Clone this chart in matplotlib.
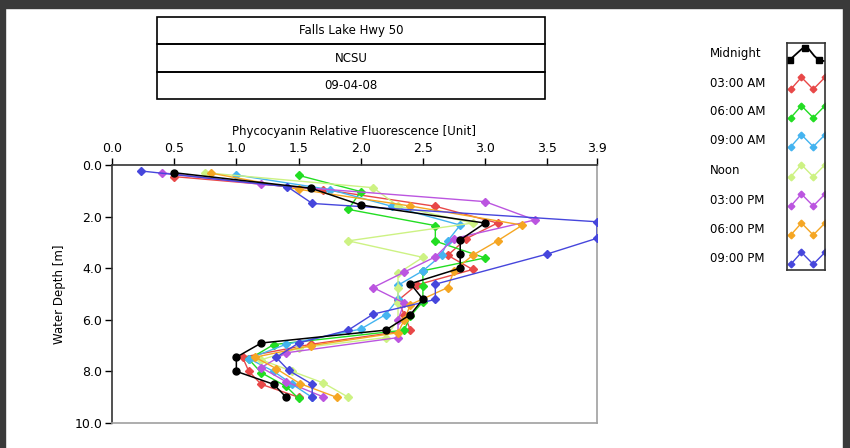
import matplotlib
matplotlib.use("Agg")
import matplotlib.pyplot as plt
from matplotlib.patches import Rectangle

# depth [m] and phycocyanin fluorescence per sampling time
depth_midnight = [0.3, 0.9, 1.55, 2.25, 2.9, 3.45, 4.0, 4.6, 5.2, 5.8, 6.4, 6.9, 7.45, 8.0, 8.5, 9.0]
pc_midnight = [0.5, 1.6, 2.0, 3.0, 2.8, 2.8, 2.8, 2.4, 2.5, 2.4, 2.2, 1.2, 1.0, 1.0, 1.3, 1.4]

depth_0300 = [0.45, 0.95, 1.6, 2.25, 2.85, 3.5, 4.05, 4.65, 5.25, 5.8, 6.4, 6.95, 7.45, 8.0, 8.5, 9.0]
pc_0300 = [0.5, 1.7, 2.6, 3.1, 2.85, 2.7, 2.9, 2.45, 2.3, 2.35, 2.4, 1.6, 1.05, 1.1, 1.2, 1.5]

depth_0600 = [0.4, 1.03, 1.72, 2.35, 2.95, 3.6, 4.1, 4.7, 5.3, 5.85, 6.4, 6.96, 7.53, 8.05, 8.58, 9.05]
pc_0600 = [1.5, 2.0, 1.9, 2.6, 2.6, 3.0, 2.5, 2.5, 2.5, 2.4, 2.35, 1.3, 1.1, 1.2, 1.4, 1.5]

depth_0900 = [0.39, 0.95, 1.6, 2.33, 2.94, 3.5, 4.1, 4.66, 5.2, 5.8, 6.36, 6.95, 7.5, 8.0, 8.5, 9.01]
pc_0900 = [1.0, 1.75, 2.25, 2.8, 2.7, 2.65, 2.5, 2.3, 2.3, 2.2, 2.0, 1.4, 1.1, 1.3, 1.45, 1.61]

depth_noon = [0.3, 0.88, 1.59, 2.25, 2.94, 3.58, 4.2, 4.75, 5.35, 6.0, 6.69, 7.1, 7.55, 8.0, 8.45, 9.0]
pc_noon = [0.75, 2.1, 2.3, 2.9, 1.9, 2.5, 2.3, 2.3, 2.3, 2.3, 2.2, 1.5, 1.2, 1.45, 1.7, 1.9]

depth_1500 = [0.3, 0.75, 1.42, 2.13, 2.85, 3.56, 4.15, 4.75, 5.35, 6.0, 6.69, 7.28, 7.85, 8.4, 8.99]
pc_1500 = [0.4, 1.2, 3.0, 3.4, 2.75, 2.6, 2.35, 2.1, 2.35, 2.3, 2.3, 1.4, 1.2, 1.4, 1.7]

depth_1800 = [0.32, 0.94, 1.59, 2.33, 2.94, 3.5, 4.1, 4.75, 5.41, 6.0, 6.5, 7.0, 7.45, 7.89, 8.47, 9.01]
pc_1800 = [0.8, 1.5, 2.4, 3.3, 3.1, 2.9, 2.75, 2.7, 2.4, 2.35, 2.3, 1.6, 1.15, 1.32, 1.51, 1.81]

depth_2100 = [0.23, 0.84, 1.49, 2.2, 2.84, 3.45, 4.62, 5.21, 5.78, 6.4, 6.9, 7.46, 7.96, 8.5, 9.0]
pc_2100 = [0.23, 1.41, 1.61, 3.9, 3.9, 3.5, 2.6, 2.6, 2.1, 1.9, 1.5, 1.32, 1.42, 1.61, 1.61]

labels = ["Midnight", "03:00 AM", "06:00 AM", "09:00 AM", "Noon", "03:00 PM", "06:00 PM", "09:00 PM"]
colors = ["#000000", "#e84848", "#22dd22", "#44b4f0", "#cdf283", "#bb55e0", "#f5a623", "#4646dc"]
depths = [depth_midnight, depth_0300, depth_0600, depth_0900, depth_noon, depth_1500, depth_1800, depth_2100]
values = [pc_midnight, pc_0300, pc_0600, pc_0900, pc_noon, pc_1500, pc_1800, pc_2100]

title_lines = ["Falls Lake Hwy 50", "NCSU", "09-04-08"]
xticks = [0.0, 0.5, 1.0, 1.5, 2.0, 2.5, 3.0, 3.5, 3.9]
yticks = [0.0, 2.0, 4.0, 6.0, 8.0, 10.0]

W, H = 850, 448
plt.rcParams["font.family"] = ["DejaVu Sans"]
fig = plt.figure(figsize=(W / 100, H / 100), dpi=100)
fig.patch.set_facecolor("white")


def fx(px):
    return px / W


def fy(py):
    return 1 - py / H


# window frame
dark = "#3a3a3a"
fig.patches.append(Rectangle((0, fy(8)), 1, 8 / H, transform=fig.transFigure, color=dark, zorder=0))
fig.patches.append(Rectangle((0, 0), 5 / W, 1, transform=fig.transFigure, color=dark, zorder=0))
fig.patches.append(Rectangle((fx(843), 0), 7 / W, 1, transform=fig.transFigure, color=dark, zorder=0))

# title boxes
box_edges = [17, 44, 72, 99]
for i, txt in enumerate(title_lines):
    y0, y1 = box_edges[i], box_edges[i + 1]
    fig.patches.append(Rectangle((fx(157), fy(y1)), (545 - 157) / W, (y1 - y0) / H,
                                 transform=fig.transFigure, fill=False, ec="black", lw=1.2))
    fig.text(fx(351), fy((y0 + y1) / 2), txt, ha="center", va="center", fontsize=8.5)

# main profile axes
ax = fig.add_axes([fx(112), fy(423), (597 - 112) / W, (423 - 165) / H])
order = [1, 2, 3, 4, 5, 6, 7, 0]
for i in order:
    if i == 0:
        ax.plot(values[i], depths[i], color=colors[i], lw=1.1, marker="o", ms=5, zorder=5)
    else:
        ax.plot(values[i], depths[i], color=colors[i], lw=1.0, marker="D", ms=3.6, zorder=3)

ax.set_xlim(0, 3.9)
ax.set_ylim(10, 0)
ax.xaxis.tick_top()
ax.xaxis.set_label_position("top")
ax.set_xticks(xticks)
ax.set_xticklabels([f"{v:.1f}" for v in xticks])
ax.set_yticks(yticks)
ax.set_yticklabels([f"{v:.1f}" for v in yticks])
ax.tick_params(axis="both", labelsize=9, length=5, width=1, pad=2)
ax.set_xlabel("Phycocyanin Relative Fluorescence [Unit]", fontsize=8.5, labelpad=5)
ax.set_ylabel("Water Depth [m]", fontsize=8.5, labelpad=6)
ax.spines["left"].set_color("#333333")
ax.spines["top"].set_color("#333333")
ax.spines["right"].set_color("#a0a0a0")
ax.spines["bottom"].set_color("#a0a0a0")
for s in ax.spines.values():
    s.set_linewidth(1.2)

# legend: labels and zigzag swatches
row_y = [54, 83.3, 111.7, 140.7, 170.7, 200, 229, 258.3]
for lab, yy in zip(labels, row_y):
    fig.text(fx(710), fy(yy), lab, ha="left", va="center", fontsize=8.5)

lax = fig.add_axes([fx(787), fy(270), (825 - 787) / W, (270 - 43) / H])
lax.set_xlim(0, 1)
lax.set_ylim(270, 43)
lax.set_xticks([])
lax.set_yticks([])
for s in lax.spines.values():
    s.set_color("#333333")
    s.set_linewidth(1.2)
for i, yy in enumerate(row_y):
    if i == 0:
        zx = [0.07, 0.3, 0.42, 0.55, 0.72, 0.84, 0.97]
        zy = [yy + 6, yy - 2, yy - 6, yy - 6, yy + 2, yy + 6, yy + 7]
        lax.plot(zx, zy, color=colors[i], lw=1.3)
        lax.plot([0.07, 0.48, 0.84], [yy + 6, yy - 6, yy + 6], ls="none", marker="s", ms=4, color=colors[i])
    else:
        zx = [0.1, 0.38, 0.69, 1.0]
        zy = [yy + 6, yy - 6, yy + 6, yy - 6]
        lax.plot(zx, zy, color=colors[i], lw=1.0, clip_on=True)
        lax.plot(zx, zy, ls="none", marker="D", ms=3.4, color=colors[i], clip_on=True)

fig.savefig("out.png", dpi=100, facecolor=fig.get_facecolor())
